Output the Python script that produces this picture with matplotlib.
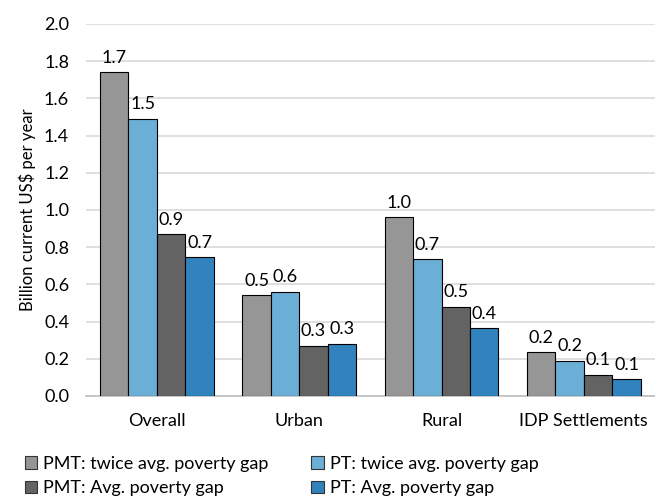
import numpy as np
import matplotlib.pyplot as plt
from matplotlib.patches import Patch

plt.rcParams['font.family'] = ['Lato', 'DejaVu Sans']

categories = ["Overall", "Urban", "Rural", "IDP Settlements"]
series_names = ["PMT: twice avg. poverty gap", "PT: twice avg. poverty gap",
                "PMT: Avg. poverty gap", "PT: Avg. poverty gap"]
pmt_twice = [1.74, 0.54, 0.96, 0.235]
pt_twice = [1.49, 0.56, 0.735, 0.19]
pmt_avg = [0.87, 0.27, 0.48, 0.115]
pt_avg = [0.745, 0.28, 0.365, 0.09]
labels = [["1.7", "0.5", "1.0", "0.2"],
          ["1.5", "0.6", "0.7", "0.2"],
          ["0.9", "0.3", "0.5", "0.1"],
          ["0.7", "0.3", "0.4", "0.1"]]
colors = ["#969696", "#6baed6", "#636363", "#3182bd"]

fig = plt.figure(figsize=(6.55, 4.98), dpi=100)
ax = fig.add_axes([0.131, 0.205, 0.869, 0.747])

x = np.arange(len(categories))
w = 0.2
series = [pmt_twice, pt_twice, pmt_avg, pt_avg]
for i, vals in enumerate(series):
    pos = x + (i - 1.5) * w
    ax.bar(pos, vals, w, color=colors[i], edgecolor="black", linewidth=0.8, zorder=3)
    for p, v, t in zip(pos, vals, labels[i]):
        ax.text(p, v + 0.035, t, ha="center", va="bottom", fontsize=13)

ax.set_xlim(-0.5, 3.5)
ax.set_ylim(0, 2.0)
ax.set_yticks(np.arange(0, 2.01, 0.2))
ax.set_yticklabels([f"{v:.1f}" for v in np.arange(0, 2.01, 0.2)])
ax.set_xticks(x)
ax.set_xticklabels(categories)
ax.tick_params(axis="both", length=0, labelsize=13, pad=12)
ax.tick_params(axis="x", pad=12)
ax.yaxis.grid(True, color="#d9d9d9", linewidth=1.2, zorder=0)
for s in ["top", "right", "left"]:
    ax.spines[s].set_visible(False)
ax.spines["bottom"].set_color("#bfbfbf")
ax.spines["bottom"].set_linewidth(1.2)
ax.set_ylabel("Billion current US$ per year", fontsize=12, labelpad=6)

# legend fills column-wise, so reorder to get row 1: twice gap, row 2: avg gap
order = [0, 2, 1, 3]
handles = [Patch(facecolor=colors[k], edgecolor="#333333", linewidth=0.8) for k in order]
fig.legend(handles, [series_names[k] for k in order], loc="lower left",
           bbox_to_anchor=(0.035, 0.0), borderaxespad=0.0, borderpad=0.1,
           ncol=2, frameon=False, fontsize=13,
           handlelength=0.7, handleheight=0.7, handletextpad=0.3,
           columnspacing=2.4, labelspacing=0.45)

fig.savefig("out.png", dpi=100)
